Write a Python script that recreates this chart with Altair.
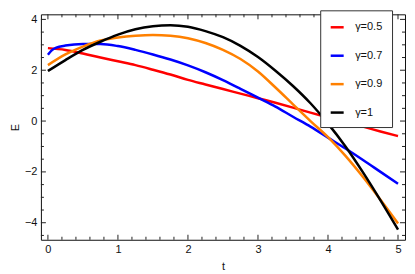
import altair as alt
import pandas as pd

# ---- data ----
series_names = ["γ=0.5", "γ=0.7", "γ=0.9", "γ=1"]
series_colors = ["#ff0000", "#0000ff", "#ff8000", "#000000"]

t_grid = [0, 0.25, 0.5, 0.75, 1, 1.25, 1.5, 1.75, 2, 2.25, 2.5, 2.75,
          3, 3.25, 3.5, 3.75, 4, 4.25, 4.5, 4.75, 5]

red_t = t_grid
red_E = [2.87, 2.80, 2.66, 2.50, 2.35, 2.20, 2.02, 1.83, 1.62, 1.44, 1.26, 1.08,
         0.90, 0.72, 0.53, 0.33, 0.14, -0.04, -0.22, -0.41, -0.59]

blue_t = [0, 0.05, 0.12, 0.25, 0.5, 0.75, 1, 1.25, 1.5, 1.75, 2, 2.25, 2.5, 2.75,
          3, 3.25, 3.5, 3.75, 4, 4.25, 4.5, 4.75, 5]
blue_E = [2.61, 2.77, 2.89, 2.97, 3.03, 3.03, 2.95, 2.80, 2.62, 2.42, 2.19, 1.92,
          1.61, 1.27, 0.92, 0.57, 0.17, -0.22, -0.65, -1.08, -1.53, -2.00, -2.47]

orange_t = t_grid
orange_E = [2.20, 2.62, 2.93, 3.17, 3.29, 3.36, 3.39, 3.36, 3.26, 3.07, 2.80, 2.44,
            1.95, 1.32, 0.66, 0.00, -0.63, -1.37, -2.20, -3.10, -4.03]

black_t = t_grid
black_E = [1.97, 2.40, 2.80, 3.12, 3.40, 3.61, 3.73, 3.77, 3.71, 3.54, 3.30, 2.96,
           2.52, 1.98, 1.38, 0.70, -0.10, -1.00, -2.02, -3.12, -4.27]

x_major = [0, 1, 2, 3, 4, 5]
x_minor = [0.2, 0.4, 0.6, 0.8, 1.2, 1.4, 1.6, 1.8, 2.2, 2.4, 2.6, 2.8,
           3.2, 3.4, 3.6, 3.8, 4.2, 4.4, 4.6, 4.8]
y_major = [-4, -2, 0, 2, 4]
y_minor = [-4.5, -3.5, -3, -2.5, -1.5, -1, -0.5, 0.5, 1, 1.5, 2.5, 3, 3.5]

W, H = 365, 226
x_dom = [-0.1, 5.1]
y_dom = [-4.67, 4.2]

rows = []
for name, ts, es in zip(series_names,
                        [red_t, blue_t, orange_t, black_t],
                        [red_E, blue_E, orange_E, black_E]):
    for t, e in zip(ts, es):
        rows.append({"t": t, "E": e, "series": name})
df = pd.DataFrame(rows)

xs = alt.Scale(domain=x_dom, nice=False, zero=False)
ys = alt.Scale(domain=y_dom, nice=False, zero=False)

lines = alt.Chart(df).mark_line(strokeWidth=2.5, interpolate="monotone").encode(
    x=alt.X("t:Q", scale=xs, title="t",
            axis=alt.Axis(values=x_major, format="d")),
    y=alt.Y("E:Q", scale=ys, title="E",
            axis=alt.Axis(values=y_major, format="d")),
    color=alt.Color("series:N",
                    scale=alt.Scale(domain=series_names, range=series_colors),
                    legend=alt.Legend(
                        title=None, orient="none", legendX=280, legendY=-4,
                        symbolType="stroke", symbolSize=169, symbolStrokeWidth=2.5,
                        padding=9, rowPadding=15.5, labelOffset=10,
                        labelExpr="datum.label + '\u00a0\u00a0\u00a0'",
                        fillColor="white", strokeColor="#333333",
                        labelFont="Liberation Sans", labelFontSize=11,
                        labelColor="#111111")),
    order=alt.Order("series:N"),
)


def xticks(vals, length, top):
    d = pd.DataFrame({"t": vals})
    if top:
        yv, y2v = alt.value(0), alt.value(length)
    else:
        yv, y2v = alt.value(H - length), alt.value(H)
    return alt.Chart(d).mark_rule(color="#222222", strokeWidth=1).encode(
        x=alt.X("t:Q", scale=xs, title="t"), y=yv, y2=y2v)


def yticks(vals, length, right):
    d = pd.DataFrame({"E": vals})
    if right:
        xv, x2v = alt.value(W - length), alt.value(W)
    else:
        xv, x2v = alt.value(0), alt.value(length)
    return alt.Chart(d).mark_rule(color="#222222", strokeWidth=1).encode(
        y=alt.Y("E:Q", scale=ys, title="E"), x=xv, x2=x2v)


ticks = [
    xticks(x_major, 5, False), xticks(x_minor, 3, False),
    xticks(x_major, 5, True), xticks(x_minor, 3, True),
    yticks(y_major, 5, False), yticks(y_minor, 3, False),
    yticks(y_major, 5, True), yticks(y_minor, 3, True),
]

chart = alt.layer(lines, *ticks).properties(
    width=W, height=H,
    autosize=alt.AutoSizeParams(type="none"),
    padding={"left": 33, "top": 6, "right": 2, "bottom": 34},
).configure_view(
    stroke="#111111", strokeWidth=1
).configure_axis(
    domain=False, ticks=False, grid=False,
    labelFont="Liberation Sans", labelFontSize=11, labelColor="#111111",
    titleFont="Liberation Sans", titleFontSize=11, titleFontWeight="normal",
    titleColor="#111111", labelPadding=4,
).configure_axisX(
    titlePadding=6
).configure_axisY(
    titlePadding=4
)

chart.save("out.html", embed_options={"renderer": "svg", "actions": False})
